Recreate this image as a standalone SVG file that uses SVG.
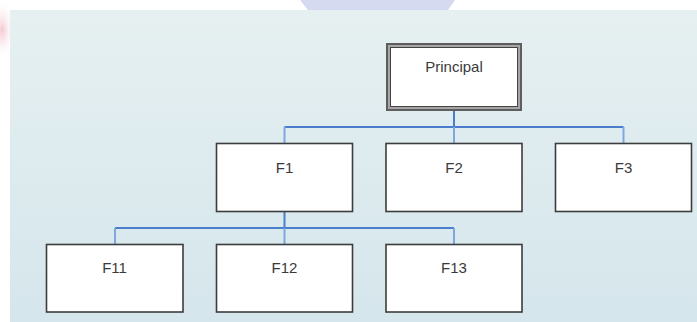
<svg xmlns="http://www.w3.org/2000/svg" width="697" height="322" viewBox="0 0 697 322">
  <defs>
    <linearGradient id="bg" x1="0" y1="0" x2="0" y2="1">
      <stop offset="0" stop-color="#e6f0f1"/>
      <stop offset="1" stop-color="#d5e6ec"/>
    </linearGradient>
    <radialGradient id="pink" cx="0.5" cy="0.5" r="0.5">
      <stop offset="0" stop-color="#f3c9d2"/>
      <stop offset="1" stop-color="#ffffff" stop-opacity="0"/>
    </radialGradient>
    <style>
      .box { fill: #ffffff; stroke: #3c3c3c; stroke-width: 1.6; }
      .lbl { font-family: "Liberation Sans", Arial, sans-serif; font-size: 15px; fill: #3a3a3a; text-anchor: middle; }
      .conn { fill: none; stroke: #4a7dcc; stroke-width: 2; }
      .stub { fill: none; stroke: #7ea7de; stroke-width: 2; }
    </style>
  </defs>
  <rect x="0" y="0" width="697" height="322" fill="#ffffff"/>
  <ellipse cx="2" cy="30" rx="14" ry="30" fill="url(#pink)"/>
  <path d="M300,0 L455,0 L448,10 L308,10 Z" fill="#d6daf1"/>
  <rect x="10" y="10" width="687" height="312" fill="url(#bg)"/>

  <g id="connectors">
    <path class="conn" d="M454,111 V127 M284.5,127 H623.5"/>
    <path class="stub" d="M284.5,127 V143.5 M454,127 V143.5 M623.5,127 V143.5"/>
    <path class="conn" d="M284.5,211.5 V228 M115,228 H454"/>
    <path class="stub" d="M115,228 V244.5 M284.5,228 V244.5 M454,228 V244.5"/>
  </g>

  <g id="principal">
    <rect x="386" y="43" width="136" height="68" fill="#5e5e5e"/>
    <rect x="388" y="45" width="132" height="64" fill="#a6a6a6"/>
    <rect x="390" y="47" width="128" height="60" fill="#444444"/>
    <rect x="391" y="48" width="126" height="58" fill="#ffffff"/>
    <text class="lbl" x="454" y="71.5">Principal</text>
  </g>

  <g id="f1">
    <rect class="box" x="216.5" y="143.5" width="136" height="68"/>
    <text class="lbl" x="284.5" y="172.5">F1</text>
  </g>
  <g id="f2">
    <rect class="box" x="386" y="143.5" width="136" height="68"/>
    <text class="lbl" x="454" y="172.5">F2</text>
  </g>
  <g id="f3">
    <rect class="box" x="555.5" y="143.5" width="136" height="68"/>
    <text class="lbl" x="623.5" y="172.5">F3</text>
  </g>
  <g id="f11">
    <rect class="box" x="46.5" y="244.5" width="136.5" height="67.5"/>
    <text class="lbl" x="114.5" y="272.5">F11</text>
  </g>
  <g id="f12">
    <rect class="box" x="216.5" y="244.5" width="136" height="67.5"/>
    <text class="lbl" x="284.5" y="272.5">F12</text>
  </g>
  <g id="f13">
    <rect class="box" x="386" y="244.5" width="136" height="67.5"/>
    <text class="lbl" x="454" y="272.5">F13</text>
  </g>
</svg>
